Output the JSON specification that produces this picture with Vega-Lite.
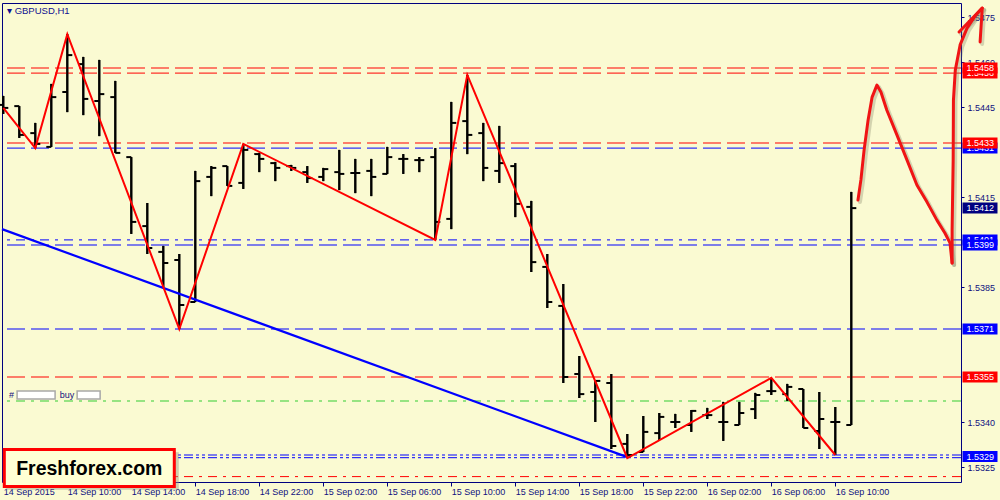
{
  "$schema": "https://vega.github.io/schema/vega-lite/v6.json",
  "width": 959,
  "height": 479,
  "autosize": {"type": "none"},
  "padding": {"left": 2, "top": 3, "right": 39, "bottom": 18},
  "background": "#fafad2",
  "title": {"text": "▾  GBPUSD,H1", "anchor": "start", "frame": "group", "orient": "top", "offset": -12, "baseline": "top", "dx": 5, "fontSize": 9.5, "font": "Liberation Sans", "fontWeight": "normal", "color": "#101090"},
  "config": {
    "view": {"stroke": "#000080", "strokeWidth": 1, "fill": "#fafad2"},
    "axis": {"grid": false, "domain": false, "title": null, "labelFont": "Liberation Sans", "labelFontSize": 9, "labelColor": "#101080", "tickColor": "#000080", "zindex": 0}
  },
  "datasets": {
    "bars": [
      {"t": "2015-09-14T06:00:00Z", "o": 1.54457, "h": 1.54487, "l": 1.54427, "c": 1.54447},
      {"t": "2015-09-14T07:00:00Z", "o": 1.54453, "h": 1.54453, "l": 1.54347, "c": 1.54357},
      {"t": "2015-09-14T08:00:00Z", "o": 1.54363, "h": 1.54397, "l": 1.54313, "c": 1.54327},
      {"t": "2015-09-14T09:00:00Z", "o": 1.54317, "h": 1.54527, "l": 1.54317, "c": 1.54483},
      {"t": "2015-09-14T10:00:00Z", "o": 1.545, "h": 1.54693, "l": 1.54433, "c": 1.54623},
      {"t": "2015-09-14T11:00:00Z", "o": 1.54593, "h": 1.54617, "l": 1.54423, "c": 1.54477},
      {"t": "2015-09-14T12:00:00Z", "o": 1.5447, "h": 1.54607, "l": 1.54353, "c": 1.54493},
      {"t": "2015-09-14T13:00:00Z", "o": 1.54483, "h": 1.54537, "l": 1.54297, "c": 1.54297},
      {"t": "2015-09-14T14:00:00Z", "o": 1.54283, "h": 1.54283, "l": 1.54027, "c": 1.54067},
      {"t": "2015-09-14T15:00:00Z", "o": 1.54053, "h": 1.5413, "l": 1.5396, "c": 1.5398},
      {"t": "2015-09-14T16:00:00Z", "o": 1.53967, "h": 1.53987, "l": 1.5385, "c": 1.5393},
      {"t": "2015-09-14T17:00:00Z", "o": 1.5394, "h": 1.5396, "l": 1.5371, "c": 1.5379},
      {"t": "2015-09-14T18:00:00Z", "o": 1.538, "h": 1.54237, "l": 1.538, "c": 1.54203},
      {"t": "2015-09-14T19:00:00Z", "o": 1.54217, "h": 1.54253, "l": 1.54153, "c": 1.54247},
      {"t": "2015-09-14T20:00:00Z", "o": 1.54253, "h": 1.54253, "l": 1.54187, "c": 1.54187},
      {"t": "2015-09-14T21:00:00Z", "o": 1.54197, "h": 1.54327, "l": 1.54177, "c": 1.54307},
      {"t": "2015-09-14T22:00:00Z", "o": 1.54293, "h": 1.54297, "l": 1.54233, "c": 1.54277},
      {"t": "2015-09-14T23:00:00Z", "o": 1.54263, "h": 1.54267, "l": 1.54203, "c": 1.54247},
      {"t": "2015-09-15T00:00:00Z", "o": 1.54253, "h": 1.54257, "l": 1.54237, "c": 1.54247},
      {"t": "2015-09-15T01:00:00Z", "o": 1.54233, "h": 1.54253, "l": 1.54197, "c": 1.54213},
      {"t": "2015-09-15T02:00:00Z", "o": 1.54217, "h": 1.54247, "l": 1.54203, "c": 1.54243},
      {"t": "2015-09-15T03:00:00Z", "o": 1.54233, "h": 1.54307, "l": 1.54173, "c": 1.54227},
      {"t": "2015-09-15T04:00:00Z", "o": 1.5423, "h": 1.54277, "l": 1.54163, "c": 1.5423},
      {"t": "2015-09-15T05:00:00Z", "o": 1.54237, "h": 1.54277, "l": 1.54153, "c": 1.54217},
      {"t": "2015-09-15T06:00:00Z", "o": 1.54227, "h": 1.54317, "l": 1.54227, "c": 1.54283},
      {"t": "2015-09-15T07:00:00Z", "o": 1.54277, "h": 1.54293, "l": 1.54227, "c": 1.54277},
      {"t": "2015-09-15T08:00:00Z", "o": 1.54273, "h": 1.54283, "l": 1.54233, "c": 1.54273},
      {"t": "2015-09-15T09:00:00Z", "o": 1.54283, "h": 1.54313, "l": 1.54007, "c": 1.54067},
      {"t": "2015-09-15T10:00:00Z", "o": 1.54077, "h": 1.54467, "l": 1.54043, "c": 1.54397},
      {"t": "2015-09-15T11:00:00Z", "o": 1.54403, "h": 1.54557, "l": 1.54293, "c": 1.54357},
      {"t": "2015-09-15T12:00:00Z", "o": 1.54363, "h": 1.54397, "l": 1.54203, "c": 1.54247},
      {"t": "2015-09-15T13:00:00Z", "o": 1.54237, "h": 1.54387, "l": 1.54197, "c": 1.54263},
      {"t": "2015-09-15T14:00:00Z", "o": 1.54253, "h": 1.54263, "l": 1.54083, "c": 1.54127},
      {"t": "2015-09-15T15:00:00Z", "o": 1.54117, "h": 1.54137, "l": 1.539, "c": 1.53933},
      {"t": "2015-09-15T16:00:00Z", "o": 1.53917, "h": 1.5396, "l": 1.5378, "c": 1.538},
      {"t": "2015-09-15T17:00:00Z", "o": 1.53787, "h": 1.5386, "l": 1.5353, "c": 1.5355},
      {"t": "2015-09-15T18:00:00Z", "o": 1.5356, "h": 1.5362, "l": 1.5348, "c": 1.53493},
      {"t": "2015-09-15T19:00:00Z", "o": 1.535, "h": 1.5354, "l": 1.534, "c": 1.53537},
      {"t": "2015-09-15T20:00:00Z", "o": 1.5353, "h": 1.5356, "l": 1.5331, "c": 1.5332},
      {"t": "2015-09-15T21:00:00Z", "o": 1.53327, "h": 1.5336, "l": 1.5328, "c": 1.5329},
      {"t": "2015-09-15T22:00:00Z", "o": 1.533, "h": 1.5342, "l": 1.533, "c": 1.53367},
      {"t": "2015-09-15T23:00:00Z", "o": 1.53363, "h": 1.5343, "l": 1.5334, "c": 1.53417},
      {"t": "2015-09-16T00:00:00Z", "o": 1.534, "h": 1.53427, "l": 1.5338, "c": 1.534},
      {"t": "2015-09-16T01:00:00Z", "o": 1.5339, "h": 1.5344, "l": 1.53367, "c": 1.53437},
      {"t": "2015-09-16T02:00:00Z", "o": 1.53423, "h": 1.53447, "l": 1.5341, "c": 1.53423},
      {"t": "2015-09-16T03:00:00Z", "o": 1.534, "h": 1.53467, "l": 1.53337, "c": 1.534},
      {"t": "2015-09-16T04:00:00Z", "o": 1.5339, "h": 1.53467, "l": 1.5339, "c": 1.5343},
      {"t": "2015-09-16T05:00:00Z", "o": 1.53443, "h": 1.53497, "l": 1.5341, "c": 1.5349},
      {"t": "2015-09-16T06:00:00Z", "o": 1.53503, "h": 1.53547, "l": 1.5349, "c": 1.53503},
      {"t": "2015-09-16T07:00:00Z", "o": 1.53493, "h": 1.53527, "l": 1.5347, "c": 1.53517},
      {"t": "2015-09-16T08:00:00Z", "o": 1.5351, "h": 1.5351, "l": 1.5338, "c": 1.5338},
      {"t": "2015-09-16T09:00:00Z", "o": 1.5337, "h": 1.535, "l": 1.5331, "c": 1.5341},
      {"t": "2015-09-16T10:00:00Z", "o": 1.534, "h": 1.5345, "l": 1.5329, "c": 1.534},
      {"t": "2015-09-16T11:00:00Z", "o": 1.5339, "h": 1.54167, "l": 1.5339, "c": 1.54113}
    ],
    "levels": [
      {"p": 1.5458, "kind": "resistance"},
      {"p": 1.54563, "kind": "resistance"},
      {"p": 1.5433, "kind": "resistance"},
      {"p": 1.54313, "kind": "support"},
      {"p": 1.54007, "kind": "pivot"},
      {"p": 1.5399, "kind": "support"},
      {"p": 1.5371, "kind": "support"},
      {"p": 1.5355, "kind": "resistance"},
      {"p": 1.5347, "kind": "entry"},
      {"p": 1.5329, "kind": "target"},
      {"p": 1.53281, "kind": "target"},
      {"p": 1.53218, "kind": "stop"}
    ],
    "tags": [
      {"p": 1.54563, "label": "1.5456", "kind": "resistance"},
      {"p": 1.5458, "label": "1.5458", "kind": "resistance"},
      {"p": 1.54313, "label": "1.5431", "kind": "support"},
      {"p": 1.5433, "label": "1.5433", "kind": "resistance"},
      {"p": 1.54113, "label": "1.5412", "kind": "bid"},
      {"p": 1.54007, "label": "1.5401", "kind": "pivot"},
      {"p": 1.5399, "label": "1.5399", "kind": "support"},
      {"p": 1.5371, "label": "1.5371", "kind": "support"},
      {"p": 1.5355, "label": "1.5355", "kind": "resistance"},
      {"p": 1.53285, "label": "1.5329", "kind": "target"}
    ],
    "zigzag": [
      {"t": "2015-09-14T06:00:00Z", "p": 1.54447},
      {"t": "2015-09-14T08:00:00Z", "p": 1.54313},
      {"t": "2015-09-14T10:00:00Z", "p": 1.54693},
      {"t": "2015-09-14T17:00:00Z", "p": 1.5371},
      {"t": "2015-09-14T21:00:00Z", "p": 1.54327},
      {"t": "2015-09-15T09:00:00Z", "p": 1.54007},
      {"t": "2015-09-15T11:00:00Z", "p": 1.54557},
      {"t": "2015-09-15T21:00:00Z", "p": 1.5328},
      {"t": "2015-09-16T06:00:00Z", "p": 1.53547},
      {"t": "2015-09-16T10:00:00Z", "p": 1.5329}
    ],
    "trend": [
      {"t": "2015-09-14T05:55:00Z", "p": 1.54043},
      {"t": "2015-09-15T21:00:00Z", "p": 1.53283}
    ],
    "arrow": [
      {"s": "a", "k": 1, "t": "2015-09-16T11:25:00Z", "p": 1.5414},
      {"s": "a", "k": 2, "t": "2015-09-16T11:36:00Z", "p": 1.54207},
      {"s": "a", "k": 3, "t": "2015-09-16T11:48:00Z", "p": 1.54307},
      {"s": "a", "k": 4, "t": "2015-09-16T12:03:00Z", "p": 1.54407},
      {"s": "a", "k": 5, "t": "2015-09-16T12:18:00Z", "p": 1.54483},
      {"s": "a", "k": 6, "t": "2015-09-16T12:36:00Z", "p": 1.54523},
      {"s": "a", "k": 7, "t": "2015-09-16T12:51:00Z", "p": 1.545},
      {"s": "a", "k": 8, "t": "2015-09-16T13:13:00Z", "p": 1.5444},
      {"s": "a", "k": 9, "t": "2015-09-16T13:51:00Z", "p": 1.54357},
      {"s": "a", "k": 10, "t": "2015-09-16T14:29:00Z", "p": 1.54273},
      {"s": "a", "k": 11, "t": "2015-09-16T15:06:00Z", "p": 1.5419},
      {"s": "a", "k": 12, "t": "2015-09-16T15:44:00Z", "p": 1.54133},
      {"s": "a", "k": 13, "t": "2015-09-16T16:21:00Z", "p": 1.54073},
      {"s": "a", "k": 14, "t": "2015-09-16T16:51:00Z", "p": 1.5403},
      {"s": "a", "k": 15, "t": "2015-09-16T17:10:00Z", "p": 1.53997},
      {"s": "a", "k": 16, "t": "2015-09-16T17:18:00Z", "p": 1.5393},
      {"s": "b", "k": 1, "t": "2015-09-16T17:18:00Z", "p": 1.5393},
      {"s": "b", "k": 2, "t": "2015-09-16T17:18:00Z", "p": 1.5404},
      {"s": "b", "k": 3, "t": "2015-09-16T17:22:00Z", "p": 1.54273},
      {"s": "b", "k": 4, "t": "2015-09-16T17:23:00Z", "p": 1.54473},
      {"s": "b", "k": 5, "t": "2015-09-16T17:30:00Z", "p": 1.54573},
      {"s": "b", "k": 6, "t": "2015-09-16T17:48:00Z", "p": 1.54657},
      {"s": "b", "k": 7, "t": "2015-09-16T18:14:00Z", "p": 1.54713},
      {"s": "b", "k": 8, "t": "2015-09-16T18:44:00Z", "p": 1.54753},
      {"s": "b", "k": 9, "t": "2015-09-16T19:11:00Z", "p": 1.5478},
      {"s": "c", "k": 1, "t": "2015-09-16T17:44:00Z", "p": 1.547},
      {"s": "c", "k": 2, "t": "2015-09-16T19:11:00Z", "p": 1.5478},
      {"s": "c", "k": 3, "t": "2015-09-16T19:03:00Z", "p": 1.54667}
    ],
    "logo": [{"t": "2015-09-14T11:22:30Z", "p": 1.532467, "text": "Freshforex.com"}],
    "order": [
      {"t": "2015-09-14T06:21:00Z", "p": 1.5349, "text": "#"},
      {"t": "2015-09-14T09:32:00Z", "p": 1.5349, "text": "buy"}
    ],
    "orderbox1": [{"t": "2015-09-14T08:03:00Z", "p": 1.5349}],
    "orderbox2": [{"t": "2015-09-14T11:20:00Z", "p": 1.5349}]
  },
  "layer": [
    {
      "data": {"name": "bars"},
      "mark": {"type": "rule", "color": "#000000", "strokeWidth": 2},
      "encoding": {
        "x": {"field": "t", "type": "temporal", "scale": {"type": "utc", "domain": [1442210107500, 1442425881600], "nice": false},
          "axis": {"orient": "bottom", "values": [1442210400000, 1442224800000, 1442239200000, 1442253600000, 1442268000000, 1442282400000, 1442296800000, 1442311200000, 1442325600000, 1442340000000, 1442354400000, 1442368800000, 1442383200000, 1442397600000],
            "labelExpr": "time(datum.value) == 1442210400000 ? '14 Sep 2015' : utcFormat(datum.value, '%d %b %H:%M')",
            "labelAlign": "left", "labelBaseline": "top", "labelPadding": 1, "labelDx": 1, "tickSize": 4, "labelFlush": false, "labelOverlap": false, "labelBound": false}},
        "y": {"field": "l", "type": "quantitative", "scale": {"domain": [1.532, 1.547967], "zero": false, "nice": false},
          "axis": {"orient": "right", "values": [1.5475, 1.546, 1.5445, 1.5415, 1.5385, 1.534, 1.5325], "format": ".4f", "tickSize": 3, "labelPadding": 3, "labelBaseline": "middle"}},
        "y2": {"field": "h"}
      }
    },
    {
      "data": {"name": "levels"},
      "mark": {"type": "rule", "strokeWidth": 1},
      "encoding": {
        "y": {"field": "p", "type": "quantitative"},
        "color": {"field": "kind", "type": "nominal", "legend": null,
          "scale": {"domain": ["resistance", "support", "pivot", "entry", "target", "stop", "bid"], "range": ["#ff0000", "#0000ff", "#0000ff", "#32cd32", "#0000ff", "#ff0000", "#000080"]}},
        "strokeDash": {"field": "kind", "type": "nominal", "legend": null,
          "scale": {"domain": ["resistance", "support", "pivot", "entry", "target", "stop"], "range": [[18, 6], [18, 6], [9, 6, 3, 6], [9, 6, 3, 6], [9, 3, 3, 3, 3, 3], [9, 6, 3, 6]]}}
      }
    },
    {
      "data": {"name": "bars"},
      "transform": [{"filter": "datum.t == '2015-09-16T11:00:00Z'"}],
      "mark": {"type": "rule", "color": "#c8c8c8", "strokeWidth": 1},
      "encoding": {"y": {"field": "c", "type": "quantitative"}}
    },
    {
      "data": {"name": "bars"},
      "mark": {"type": "rule", "color": "#000000", "strokeWidth": 2},
      "encoding": {"x": {"field": "t", "type": "temporal"}, "y": {"field": "l", "type": "quantitative"}, "y2": {"field": "h"}}
    },
    {
      "data": {"name": "bars"},
      "mark": {"type": "point", "shape": "M-1.25,0L0,0", "filled": false, "stroke": "#000000", "strokeWidth": 2, "size": 64, "opacity": 1},
      "encoding": {"x": {"field": "t", "type": "temporal"}, "y": {"field": "o", "type": "quantitative"}}
    },
    {
      "data": {"name": "bars"},
      "mark": {"type": "point", "shape": "M0,0L1.25,0", "filled": false, "stroke": "#000000", "strokeWidth": 2, "size": 64, "opacity": 1},
      "encoding": {"x": {"field": "t", "type": "temporal"}, "y": {"field": "c", "type": "quantitative"}}
    },
    {
      "data": {"name": "trend"},
      "mark": {"type": "line", "color": "#0000ff", "strokeWidth": 2.2},
      "encoding": {"x": {"field": "t", "type": "temporal"}, "y": {"field": "p", "type": "quantitative"}}
    },
    {
      "data": {"name": "zigzag"},
      "mark": {"type": "line", "color": "#ff0000", "strokeWidth": 2},
      "encoding": {"x": {"field": "t", "type": "temporal"}, "y": {"field": "p", "type": "quantitative"}}
    },
    {
      "data": {"name": "arrow"},
      "mark": {"type": "line", "color": "#7a7a60", "strokeWidth": 4, "opacity": 0.3, "strokeCap": "round", "strokeJoin": "round", "clip": false, "xOffset": 2, "yOffset": 2},
      "encoding": {"x": {"field": "t", "type": "temporal"}, "y": {"field": "p", "type": "quantitative"}, "detail": {"field": "s"}, "order": {"field": "k", "type": "quantitative"}}
    },
    {
      "data": {"name": "arrow"},
      "mark": {"type": "line", "color": "#f01414", "strokeWidth": 3, "strokeCap": "round", "strokeJoin": "round", "clip": false},
      "encoding": {"x": {"field": "t", "type": "temporal"}, "y": {"field": "p", "type": "quantitative"}, "detail": {"field": "s"}, "order": {"field": "k", "type": "quantitative"}}
    },
    {
      "data": {"name": "tags"},
      "transform": [{"filter": "indexof(['1.5456', '1.5431', '1.5401'], datum.label) >= 0"}],
      "mark": {"type": "point", "shape": "M-1,-0.314L1,-0.314L1,0.314L-1,0.314Z", "filled": true, "size": 1225, "opacity": 1, "xOffset": 19},
      "encoding": {
        "x": {"datum": {"year": 2015, "month": 9, "date": 16, "hours": 17, "minutes": 51, "seconds": 21, "utc": true}, "type": "temporal"},
        "y": {"field": "p", "type": "quantitative"},
        "color": {"field": "kind", "type": "nominal", "legend": null}
      }
    },
    {
      "data": {"name": "tags"},
      "transform": [{"filter": "indexof(['1.5456', '1.5431', '1.5401'], datum.label) >= 0"}],
      "mark": {"type": "text", "align": "left", "baseline": "middle", "dx": 5.5, "color": "#ffffff", "font": "Liberation Sans", "fontSize": 9},
      "encoding": {
        "x": {"datum": {"year": 2015, "month": 9, "date": 16, "hours": 17, "minutes": 51, "seconds": 21, "utc": true}, "type": "temporal"},
        "y": {"field": "p", "type": "quantitative"},
        "text": {"field": "label"}
      }
    },
    {
      "data": {"name": "tags"},
      "transform": [{"filter": "indexof(['1.5456', '1.5431', '1.5401'], datum.label) < 0"}],
      "mark": {"type": "point", "shape": "M-1,-0.314L1,-0.314L1,0.314L-1,0.314Z", "filled": true, "size": 1225, "opacity": 1, "xOffset": 19},
      "encoding": {
        "x": {"datum": {"year": 2015, "month": 9, "date": 16, "hours": 17, "minutes": 51, "seconds": 21, "utc": true}, "type": "temporal"},
        "y": {"field": "p", "type": "quantitative"},
        "color": {"field": "kind", "type": "nominal", "legend": null}
      }
    },
    {
      "data": {"name": "tags"},
      "transform": [{"filter": "indexof(['1.5456', '1.5431', '1.5401'], datum.label) < 0"}],
      "mark": {"type": "text", "align": "left", "baseline": "middle", "dx": 5.5, "color": "#ffffff", "font": "Liberation Sans", "fontSize": 9},
      "encoding": {
        "x": {"datum": {"year": 2015, "month": 9, "date": 16, "hours": 17, "minutes": 51, "seconds": 21, "utc": true}, "type": "temporal"},
        "y": {"field": "p", "type": "quantitative"},
        "text": {"field": "label"}
      }
    },
    {
      "data": {"name": "orderbox1"},
      "mark": {"type": "point", "shape": "M-1,-0.21L1,-0.21L1,0.21L-1,0.21Z", "filled": true, "fill": "#ffffff", "stroke": "#a8a8a8", "strokeWidth": 1.5, "size": 1444, "opacity": 1},
      "encoding": {"x": {"field": "t", "type": "temporal"}, "y": {"field": "p", "type": "quantitative"}}
    },
    {
      "data": {"name": "orderbox2"},
      "mark": {"type": "point", "shape": "M-1,-0.348L1,-0.348L1,0.348L-1,0.348Z", "filled": true, "fill": "#ffffff", "stroke": "#a8a8a8", "strokeWidth": 1.5, "size": 529, "opacity": 1},
      "encoding": {"x": {"field": "t", "type": "temporal"}, "y": {"field": "p", "type": "quantitative"}}
    },
    {
      "data": {"name": "order"},
      "mark": {"type": "text", "align": "left", "baseline": "middle", "color": "#101080", "font": "Liberation Sans", "fontSize": 9},
      "encoding": {"x": {"field": "t", "type": "temporal"}, "y": {"field": "p", "type": "quantitative"}, "text": {"field": "text"}}
    },
    {
      "data": {"name": "logo"},
      "mark": {"type": "point", "shape": "M-1,-0.2176L1,-0.2176L1,0.2176L-1,0.2176Z", "filled": true, "fill": "#9a9a80", "opacity": 0.45, "strokeWidth": 0, "size": 29929, "xOffset": 3, "yOffset": 3},
      "encoding": {"x": {"field": "t", "type": "temporal"}, "y": {"field": "p", "type": "quantitative"}}
    },
    {
      "data": {"name": "logo"},
      "mark": {"type": "point", "shape": "M-1,-0.2176L1,-0.2176L1,0.2176L-1,0.2176Z", "filled": true, "fill": "#ffffd4", "stroke": "#ff0000", "strokeWidth": 3, "size": 28900, "opacity": 1},
      "encoding": {"x": {"field": "t", "type": "temporal"}, "y": {"field": "p", "type": "quantitative"}}
    },
    {
      "data": {"name": "logo"},
      "mark": {"type": "text", "align": "center", "baseline": "middle", "color": "#000000", "font": "Liberation Sans", "fontWeight": "bold", "fontSize": 19.5, "dy": 1},
      "encoding": {"x": {"field": "t", "type": "temporal"}, "y": {"field": "p", "type": "quantitative"}, "text": {"field": "text"}}
    }
  ]
}
